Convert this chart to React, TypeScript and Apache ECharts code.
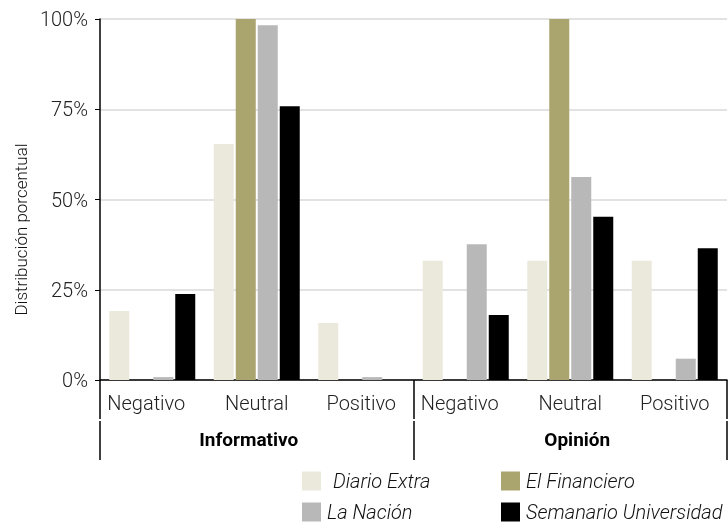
import React, { useEffect, useRef } from "react";
import * as echarts from "echarts";

const categories = ["Negativo", "Neutral", "Positivo", "Negativo", "Neutral", "Positivo"];
const groups = ["Informativo", "Opinión"];
const yTicks = [0, 25, 50, 75, 100];

const diarioExtra = [19.1, 65.4, 15.8, 33.0, 33.0, 33.0];
const elFinanciero = [0, 100, 0, 0, 100, 0];
const laNacion = [0.8, 98.3, 0.8, 37.6, 56.2, 5.9];
const semanario = [23.8, 75.8, 0, 18.0, 45.2, 36.5];

const seriesNames = ["Diario Extra", "El Financiero", "La Nación", "Semanario Universidad"];
const seriesData = [diarioExtra, elFinanciero, laNacion, semanario];
const colors = ["#ebe8dc", "#aaa56e", "#b8b8b8", "#000000"];

const FONT = "Roboto, 'DejaVu Sans Condensed', sans-serif";

const legendPlaces = [
  { left: 302, top: 471, pad: 7 },
  { left: 501, top: 471, pad: 1 },
  { left: 302, top: 502, pad: 1 },
  { left: 501, top: 502, pad: 1 },
];

export default function App() {
  const ref = useRef<HTMLDivElement>(null);
  useEffect(() => {
    if (!ref.current) return;
    const chart = echarts.init(ref.current, undefined, { renderer: "svg" });
    chart.setOption({
      animation: false,
      textStyle: { fontFamily: FONT },
      grid: { left: 100, right: 1, top: 19, bottom: 143, containLabel: false, outerBoundsMode: "none" },
      legend: seriesNames.map((n, i) => ({
        data: [n],
        orient: "horizontal",
        left: legendPlaces[i].left,
        top: legendPlaces[i].top,
        padding: 0,
        itemWidth: 19,
        itemHeight: 19,
        icon: "rect",
        textStyle: {
          fontFamily: FONT,
          fontSize: 20,
          fontWeight: 300,
          fontStyle: "italic",
          color: "#111",
          padding: [0, 0, 0, legendPlaces[i].pad],
        },
      })),
      xAxis: [
        {
          type: "category",
          data: categories,
          position: "bottom",
          axisLine: { lineStyle: { color: "#000", width: 1.5 } },
          axisTick: {
            show: true,
            length: 39,
            interval: (i: number) => i % 3 === 0,
            lineStyle: { color: "#000", width: 1.5 },
          },
          axisLabel: {
            fontFamily: FONT,
            fontSize: 20,
            fontWeight: 300,
            color: "#222",
            margin: 13,
            interval: 0,
            formatter: (v: string) => (v === "Negativo" ? "{neg|" + v + "}" : v),
            rich: {
              neg: { fontFamily: FONT, fontSize: 20, fontWeight: 300, color: "#222", padding: [0, 12, 0, 0] },
            },
          },
        },
        {
          type: "category",
          data: groups,
          position: "bottom",
          offset: 41,
          axisLine: { show: false },
          axisTick: { show: true, length: 39, interval: 0, lineStyle: { color: "#000", width: 1.5 } },
          axisLabel: {
            fontFamily: FONT,
            fontSize: 19,
            fontWeight: "bold",
            color: "#000",
            margin: 9,
            interval: 0,
            formatter: (v: string, i: number) => (i === 0 ? "{a|" + v + "}" : "{b|" + v + "}"),
            rich: {
              a: { fontFamily: FONT, fontSize: 19, fontWeight: "bold", color: "#000", padding: [0, 16, 0, 0] },
              b: { fontFamily: FONT, fontSize: 19, fontWeight: "bold", color: "#000", padding: [0, 0, 0, 14] },
            },
          },
        },
      ],
      yAxis: {
        type: "value",
        min: yTicks[0],
        max: yTicks[yTicks.length - 1],
        interval: 25,
        name: "Distribución porcentual",
        nameLocation: "middle",
        nameGap: 64,
        nameTextStyle: { fontFamily: FONT, fontSize: 17, fontWeight: 300, color: "#111", padding: [0, 60, 0, 0] },
        axisLine: { show: true, lineStyle: { color: "#000", width: 1.5 } },
        axisTick: { show: true, length: 5, lineStyle: { color: "#000" } },
        axisLabel: { fontFamily: FONT, fontSize: 20, fontWeight: 300, color: "#222", margin: 12, formatter: "{value}%" },
        splitLine: { lineStyle: { color: "#d9d9d9", width: 1.5 } },
      },
      series: seriesNames.map((name, i) => ({
        name,
        type: "bar",
        xAxisIndex: 0,
        data: seriesData[i],
        barWidth: 20,
        barGap: "10%",
        itemStyle: { color: colors[i] },
      })),
    });
    return () => chart.dispose();
  }, []);
  return <div ref={ref} style={{ position: "fixed", left: 0, top: 0, width: 728, height: 523 }} />;
}
